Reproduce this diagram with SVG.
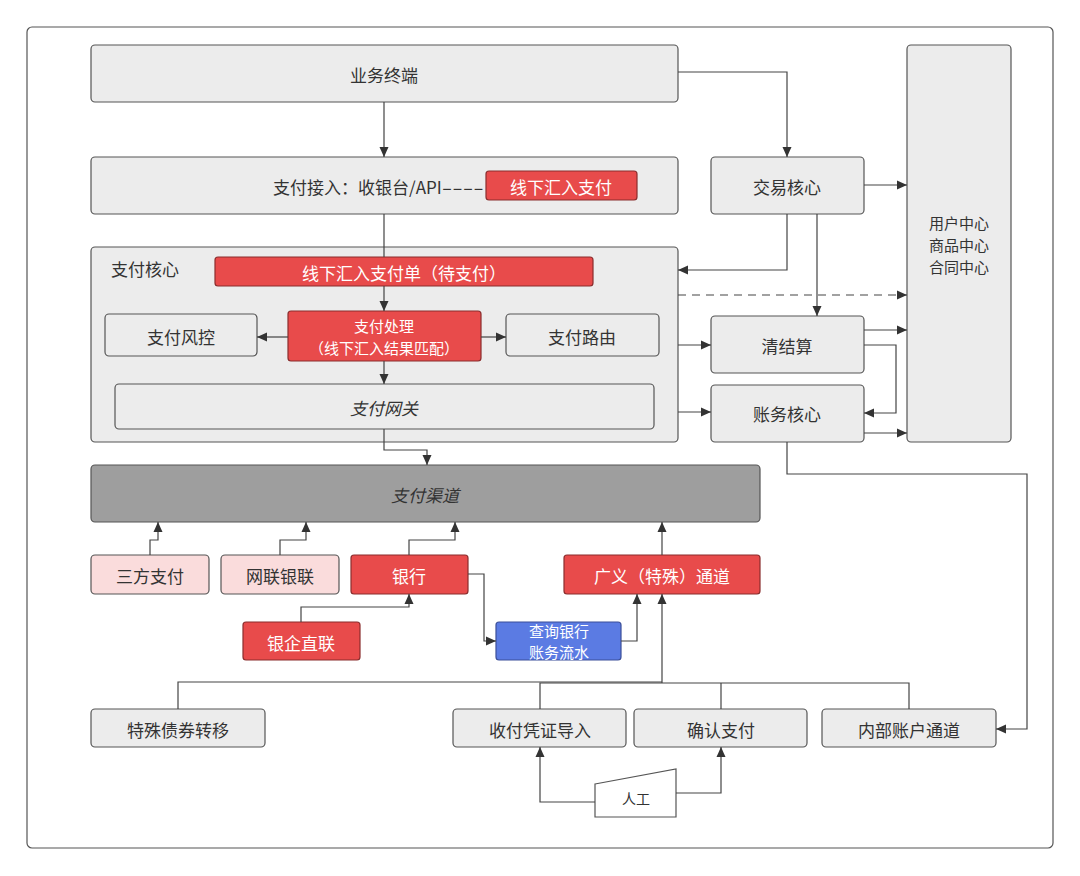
<svg xmlns="http://www.w3.org/2000/svg" width="1080" height="876" viewBox="0 0 1080 876">
<defs>
<marker id="ah" viewBox="0 0 10 10" refX="10" refY="5" markerWidth="10" markerHeight="10" markerUnits="userSpaceOnUse" orient="auto">
<path d="M0,0.5 L10,5 L0,9.5 Z" fill="#333"/>
</marker>
<style>
text{font-family:"Noto Sans CJK SC","Liberation Sans",sans-serif;font-size:17px;fill:#333;text-anchor:middle;dominant-baseline:central}
.n{fill:#ececec;stroke:#555;stroke-width:1.2}
.r{fill:#e84b4b;stroke:#8a2d2d;stroke-width:1.2}
.p{fill:#fadcdc;stroke:#555;stroke-width:1.2}
.b{fill:#5b7be3;stroke:#3b4f99;stroke-width:1.2}
.w{fill:#fff}
.it{font-style:italic}
.sm{font-size:15px}
.c path{fill:none;stroke:#444;stroke-width:1.2}
.c .a{marker-end:url(#ah)}
</style>
</defs>
<rect x="0" y="0" width="1080" height="876" fill="#fff"/>
<rect x="27" y="27" width="1026" height="821" rx="5" fill="#fff" stroke="#555" stroke-width="1.2"/>

<g id="yewu"><rect class="n" x="91" y="45" width="587" height="57" rx="4"/><text x="384" y="74">业务终端</text></g>
<g id="jieru"><rect class="n" x="91" y="157" width="587" height="57" rx="4"/><text x="273" y="186" style="text-anchor:start">支付接入：收银台/API<tspan textLength="42" lengthAdjust="spacingAndGlyphs">----</tspan></text></g>
<g id="xianxia"><rect class="r" x="486" y="171" width="151" height="29" rx="3"/><text class="w" x="561" y="186">线下汇入支付</text></g>
<g id="jiaoyi"><rect class="n" x="711" y="157" width="153" height="57" rx="4"/><text x="787" y="186">交易核心</text></g>
<g id="yonghu"><rect class="n" x="907" y="45" width="104" height="397" rx="4"/><text class="sm" x="959" y="222">用户中心</text><text class="sm" x="959" y="244">商品中心</text><text class="sm" x="959" y="266">合同中心</text></g>

<g id="hexin"><rect class="n" x="91" y="247" width="587" height="195" rx="4"/><text x="145" y="268">支付核心</text></g>
<g id="dan"><rect class="r" x="215" y="257" width="378" height="29" rx="3"/><text class="w" x="404" y="272">线下汇入支付单（待支付）</text></g>
<g id="fengkong"><rect class="n" x="105" y="314" width="152" height="42" rx="4"/><text x="181" y="336">支付风控</text></g>
<g id="chuli"><rect class="r" x="288" y="311" width="193" height="50" rx="3"/><text class="w sm" x="384" y="325">支付处理</text><text class="w sm" x="384" y="347">（线下汇入结果匹配）</text></g>
<g id="luyou"><rect class="n" x="506" y="314" width="153" height="42" rx="4"/><text x="582" y="336">支付路由</text></g>
<g id="wangguan"><rect class="n" x="115" y="384" width="539" height="45" rx="4"/><text class="it" x="384" y="407">支付网关</text></g>
<g id="qingjiesuan"><rect class="n" x="711" y="316" width="153" height="57" rx="4"/><text x="787" y="345">清结算</text></g>
<g id="zhangwu"><rect class="n" x="711" y="385" width="153" height="57" rx="4"/><text x="787" y="413">账务核心</text></g>

<g id="qudao"><rect x="91" y="465" width="669" height="57" rx="4" fill="#9e9e9e" stroke="#555" stroke-width="1.2"/><text class="it" x="425" y="494">支付渠道</text></g>
<g id="sanfang"><rect class="p" x="91" y="555" width="118" height="39" rx="4"/><text x="150" y="575">三方支付</text></g>
<g id="wanglian"><rect class="p" x="221" y="555" width="118" height="39" rx="4"/><text x="280" y="575">网联银联</text></g>
<g id="yinhang"><rect class="r" x="351" y="555" width="117" height="39" rx="3"/><text class="w" x="409" y="575">银行</text></g>
<g id="guangyi"><rect class="r" x="564" y="555" width="196" height="39" rx="3"/><text class="w" x="662" y="575">广义（特殊）通道</text></g>
<g id="yinqi"><rect class="r" x="243" y="622" width="117" height="38" rx="3"/><text class="w" x="301" y="642">银企直联</text></g>
<g id="chaxun"><rect class="b" x="496" y="622" width="125" height="38" rx="3"/><text class="w sm" x="559" y="630.5">查询银行</text><text class="w sm" x="559" y="651.5">账务流水</text></g>

<g id="zhaiquan"><rect class="n" x="91" y="709" width="174" height="38" rx="4"/><text x="178" y="729">特殊债券转移</text></g>
<g id="pingzheng"><rect class="n" x="453" y="709" width="173" height="38" rx="4"/><text x="540" y="729">收付凭证导入</text></g>
<g id="queren"><rect class="n" x="634" y="709" width="173" height="38" rx="4"/><text x="721" y="729">确认支付</text></g>
<g id="neibu"><rect class="n" x="822" y="709" width="174" height="38" rx="4"/><text x="909" y="729">内部账户通道</text></g>
<g id="rengong"><path d="M595,784 L676,769 L676,817 L595,817 Z" fill="#fff" stroke="#555" stroke-width="1.2"/><text x="636" y="798" style="font-size:14px">人工</text></g>

<g class="c" id="connectors">
<path class="a" d="M384,102 V157"/>
<path class="a" d="M678,72 H787 V157"/>
<path d="M384,214 V257"/>
<path class="a" d="M384,286 V311"/>
<path class="a" d="M288,337 H257"/>
<path class="a" d="M481,337 H506"/>
<path class="a" d="M384,361 V384"/>
<path class="a" d="M384,429 V450 H427 V465"/>
<path class="a" d="M864,185 H907"/>
<path class="a" d="M787,214 V270 H678"/>
<path class="a" d="M817,214 V316"/>
<path class="a" d="M678,295 H907" style="stroke-dasharray:8,6"/>
<path class="a" d="M678,345 H711"/>
<path class="a" d="M678,412 H711"/>
<path class="a" d="M864,330 H907"/>
<path class="a" d="M864,345 H896 V413 H864"/>
<path class="a" d="M864,433 H907"/>
<path class="a" d="M787,442 V474 H1027 V729 H996"/>
<path class="a" d="M150,555 V540 H158 V522"/>
<path class="a" d="M280,555 V540 H306 V522"/>
<path class="a" d="M409,555 V540 H455 V522"/>
<path class="a" d="M662,555 V522"/>
<path class="a" d="M301,622 V607 H409 V594"/>
<path class="a" d="M468,574 H484 V641 H496"/>
<path class="a" d="M621,641 H637 V594"/>
<path d="M178,709 V682 H662"/>
<path class="a" d="M662,683 V594"/>
<path d="M540,709 V683 H909 V709"/>
<path d="M721,683 V709"/>
<path class="a" d="M595,802 H540 V747"/>
<path class="a" d="M676,793 H721 V747"/>
</g>
</svg>
